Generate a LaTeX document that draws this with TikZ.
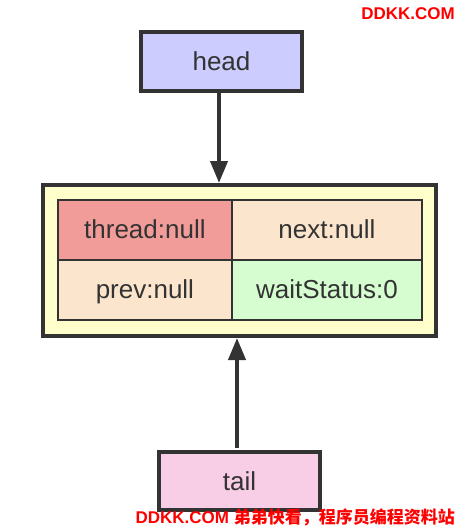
\documentclass[tikz,border=0pt]{standalone}
\usepackage{fontspec}
\setmainfont{Liberation Sans}
\newfontfamily\cjk{Noto Sans CJK SC}
\usetikzlibrary{arrows.meta}
\definecolor{edge}{HTML}{333333}
\definecolor{headfill}{HTML}{CCCCFF}
\definecolor{tailfill}{HTML}{F8CDE6}
\definecolor{outerfill}{HTML}{FFFFCC}
\definecolor{threadfill}{HTML}{F19C99}
\definecolor{peachfill}{HTML}{FCE5CD}
\definecolor{greenfill}{HTML}{D5FDD0}
\definecolor{txt}{HTML}{333333}
\definecolor{wm}{HTML}{FF0000}
\tikzset{
  x=1pt,y=-1pt,
  boxtext/.style={text=txt,font=\fontsize{26}{30}\selectfont,text height=19pt,text depth=1pt},
  labelbox/.style={draw=edge,line width=4pt,boxtext,inner sep=0pt,anchor=north west},
  cellbox/.style={draw=edge,line width=1.8pt,boxtext,inner sep=0pt,anchor=north west,minimum width=174pt,minimum height=60pt},
  ptr/.style={draw=edge,line width=4pt,-{Triangle[length=22pt,width=17pt]}},
  wmark/.style={text=wm,font=\fontsize{17}{20}\selectfont\bfseries,inner sep=0pt}
}
\begin{document}
\begin{tikzpicture}
\useasboundingbox (0,0) rectangle (458,528);
% head
\node[labelbox,fill=headfill,minimum width=161pt,minimum height=59pt] (head) at (139,30) {head};
% outer node box
\node[draw=edge,line width=4pt,fill=outerfill,inner sep=0pt,anchor=north west,minimum width=393pt,minimum height=151pt] (outer) at (41,183) {};
% cells
\node[cellbox,fill=threadfill] (thread) at (57,199) {thread:null};
\node[cellbox,fill=peachfill,minimum width=190pt] (next) at (231,199) {next:null};
\node[cellbox,fill=peachfill] (prev) at (57,259) {prev:null};
\node[cellbox,fill=greenfill,minimum width=190pt] (wait) at (231,259) {waitStatus:0};
% tail
\node[labelbox,fill=tailfill,minimum width=161pt,minimum height=58pt] (tail) at (157,450) {tail};
% pointers
\coordinate (headbot) at (219,91);
\coordinate (outtop) at (219,183);
\coordinate (tailtop) at (237,448);
\coordinate (outbot) at (237,338);
\draw[ptr] (headbot) -- (outtop);
\draw[ptr] (tailtop) -- (outbot);
% watermarks
\node[wmark,anchor=east] (wm1) at (455,14) {DDKK.COM};
\node[wmark,anchor=east] (wm2) at (455,517) {DDKK.COM {\cjk\bfseries 弟弟快看，程序员编程资料站}};
\end{tikzpicture}
\end{document}
